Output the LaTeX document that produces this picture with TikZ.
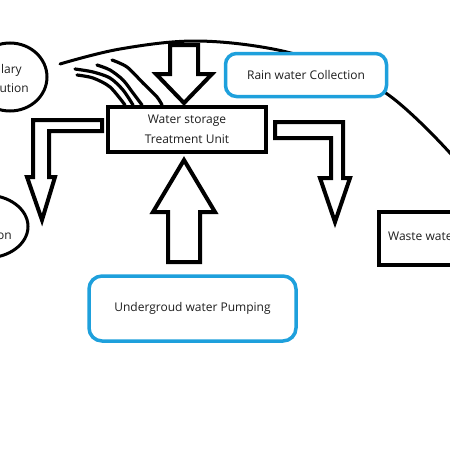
\documentclass[tikz,border=0pt]{standalone}
\usepackage{fontspec}
\setmainfont{Open Sans}
\usetikzlibrary{shapes.geometric}
\definecolor{bluebd}{RGB}{30,160,220}
\definecolor{txt}{RGB}{30,30,30}
\begin{document}
\begin{tikzpicture}[x=1pt,y=-1pt,
  txtfont/.style={font=\fontsize{12}{20}\selectfont, text=txt},
  lbl/.style={txtfont, inner sep=0pt},
  blackbox/.style={draw=black, line width=4pt, fill=white, rectangle, inner sep=0pt, txtfont, align=center},
  bluebox/.style={draw=bluebd, line width=3.5pt, fill=white, rectangle, rounded corners=11pt, inner sep=0pt, txtfont},
  oval/.style={draw=black, line width=3pt, ellipse, inner sep=0pt},
  blockarrow/.style={draw=black, line width=4pt, fill=white, line join=miter},
  streak/.style={line width=3.2pt, line cap=round},
  arcline/.style={line width=3pt, line cap=round},
]
\useasboundingbox (0,0) rectangle (450,450);
\fill[white] (0,0) rectangle (450,450);

% ellipses on the left (cut by the edge)
\node[oval, minimum width=74pt, minimum height=68pt] (capil) at (10,77) {};
\node[lbl, anchor=base east] (capilA) at (22,73) {lary};
\node[lbl, anchor=base east] (capilB) at (29,92) {ution};
\node[oval, minimum width=84pt, minimum height=63pt] (irrig) at (-14,226.5) {};
\node[lbl, anchor=base east] (irrigA) at (12,239) {on};

% big arc
\draw[arcline] plot[smooth, tension=0.6] coordinates {(60,64) (120,49) (195,41) (273,49) (335,68) (390,96) (450,153) (475,190)};

% streaks
\draw[streak] plot[smooth] coordinates {(75,69) (93,72) (110,78) (123,90) (133,105)};
\draw[streak] plot[smooth] coordinates {(77,75) (93,78) (110,87) (125,105)};
\draw[streak] plot[smooth] coordinates {(97,65) (110,70) (123,80) (133,93) (142,105)};
\draw[streak] plot[smooth] coordinates {(112,60) (127,67) (143,83) (157,97) (162,105)};

% rain water collection box
\node[bluebox, minimum width=161pt, minimum height=43pt] (rain) at (306,75) {Rain water Collection};

% top arrow down into storage
\draw[blockarrow] (170,45) -- (198,45) -- (198,74) -- (212,74) -- (184,103) -- (156,74) -- (170,74) -- cycle;

% storage box
\node[blackbox, minimum width=158pt, minimum height=45pt] (store) at (187,129) {Water storage\\Treatment Unit};

% L arrows
\draw[blockarrow] (102,120) -- (33,120) -- (33,177) -- (27,177) -- (42,220) -- (55,177) -- (49,177) -- (49,131) -- (102,131) -- cycle;
\draw[blockarrow] (275,122) -- (343,122) -- (343,178) -- (350,178) -- (335,222) -- (320,178) -- (331,178) -- (331,138) -- (275,138) -- cycle;

% up arrow
\draw[blockarrow] (184,160) -- (215,212) -- (200,212) -- (200,262) -- (168,262) -- (168,212) -- (153,212) -- cycle;

% underground box
\node[bluebox, minimum width=207pt, minimum height=65pt, rounded corners=13pt] (ground) at (192.5,308.5) {Undergroud water Pumping};

% waste water box (cut by the edge)
\node[blackbox, anchor=north west, minimum width=130pt, minimum height=53pt] (waste) at (377,210) {};
\node[lbl, anchor=base west] (wasteA) at (388,240) {Waste wate};
\end{tikzpicture}
\end{document}
